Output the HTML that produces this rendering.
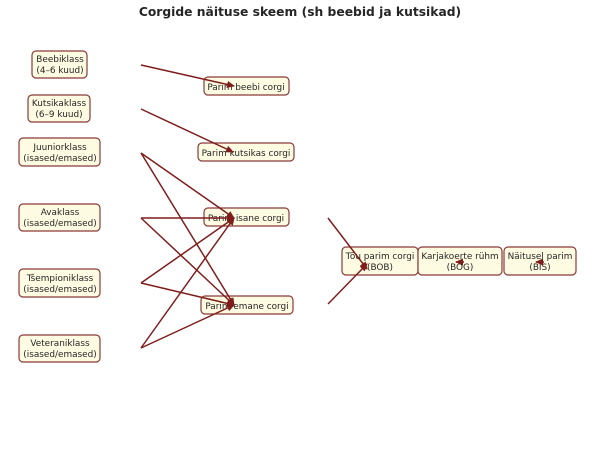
<!DOCTYPE html>
<html><head><meta charset="utf-8"><style>
html,body{margin:0;padding:0;background:#fff;}
svg{display:block;}
text{font-family:"DejaVu Sans","Liberation Sans",sans-serif;fill:#262626;}
.b{fill:#fdfbe1;stroke:#8b3a3a;stroke-width:1.2;}
.l{stroke:#7f1d1d;stroke-width:1.5;fill:none;}
</style></head><body>
<svg width="600" height="465" viewBox="0 0 600 465" xmlns="http://www.w3.org/2000/svg">
<defs><marker id="a" markerWidth="8" markerHeight="8" refX="7" refY="4" orient="auto" markerUnits="userSpaceOnUse"><path d="M0,0.5 L8,4 L0,7.5 z" fill="#7f1d1d"/></marker></defs>
<text x="300" y="16" text-anchor="middle" font-size="12.3" font-weight="bold">Corgide näituse skeem (sh beebid ja kutsikad)</text>

<g class="b">
<rect x="32" y="51" width="55" height="27" rx="4"/>
<rect x="28" y="95" width="62" height="27" rx="4"/>
<rect x="19" y="138" width="81" height="28" rx="4"/>
<rect x="19" y="204" width="81" height="27" rx="4"/>
<rect x="19" y="269" width="81" height="28" rx="4"/>
<rect x="19" y="335" width="81" height="27" rx="4"/>
<rect x="204" y="77" width="85" height="18" rx="4"/>
<rect x="198" y="143" width="96" height="18" rx="4"/>
<rect x="204" y="208" width="85" height="18" rx="4"/>
<rect x="201" y="296" width="92" height="18" rx="4"/>
<rect x="342" y="247" width="76" height="28" rx="4"/>
<rect x="418" y="247" width="84" height="28" rx="4"/>
<rect x="504" y="247" width="72" height="28" rx="4"/>
</g>

<g font-size="8.9" text-anchor="middle">
<text x="60" y="62">Beebiklass</text><text x="60" y="73">(4–6 kuud)</text>
<text x="59" y="106">Kutsikaklass</text><text x="59" y="117">(6–9 kuud)</text>
<text x="60" y="150">Juuniorklass</text><text x="60" y="161">(isased/emased)</text>
<text x="60" y="215">Avaklass</text><text x="60" y="226">(isased/emased)</text>
<text x="60" y="281">Tšempioniklass</text><text x="60" y="292">(isased/emased)</text>
<text x="60" y="346">Veteraniklass</text><text x="60" y="357">(isased/emased)</text>
<text x="246" y="90">Parim beebi corgi</text>
<text x="246" y="156">Parim kutsikas corgi</text>
<text x="246" y="221">Parim isane corgi</text>
<text x="247" y="309">Parim emane corgi</text>
<text x="380" y="259">Tõu parim corgi</text><text x="380" y="270">(BOB)</text>
<text x="460" y="259">Karjakoerte rühm</text><text x="460" y="270">(BOG)</text>
<text x="540" y="259">Näitusel parim</text><text x="540" y="270">(BIS)</text>
</g>

<g class="l" marker-end="url(#a)">
<line x1="141" y1="65" x2="234" y2="86"/>
<line x1="141" y1="109" x2="233" y2="152"/>
<line x1="141" y1="153" x2="234" y2="218"/>
<line x1="141" y1="153" x2="234" y2="305"/>
<line x1="141" y1="218" x2="234" y2="218"/>
<line x1="141" y1="218" x2="234" y2="305"/>
<line x1="141" y1="283" x2="234" y2="218"/>
<line x1="141" y1="283" x2="234" y2="305"/>
<line x1="141" y1="348" x2="234" y2="218"/>
<line x1="141" y1="348" x2="234" y2="305"/>
<line x1="328" y1="218" x2="367" y2="269"/>
<line x1="328" y1="304" x2="367" y2="264"/>
<line x1="464" y1="262" x2="456" y2="262"/>
<line x1="544" y1="262" x2="536" y2="262"/>
</g>
</svg>
</body></html>
